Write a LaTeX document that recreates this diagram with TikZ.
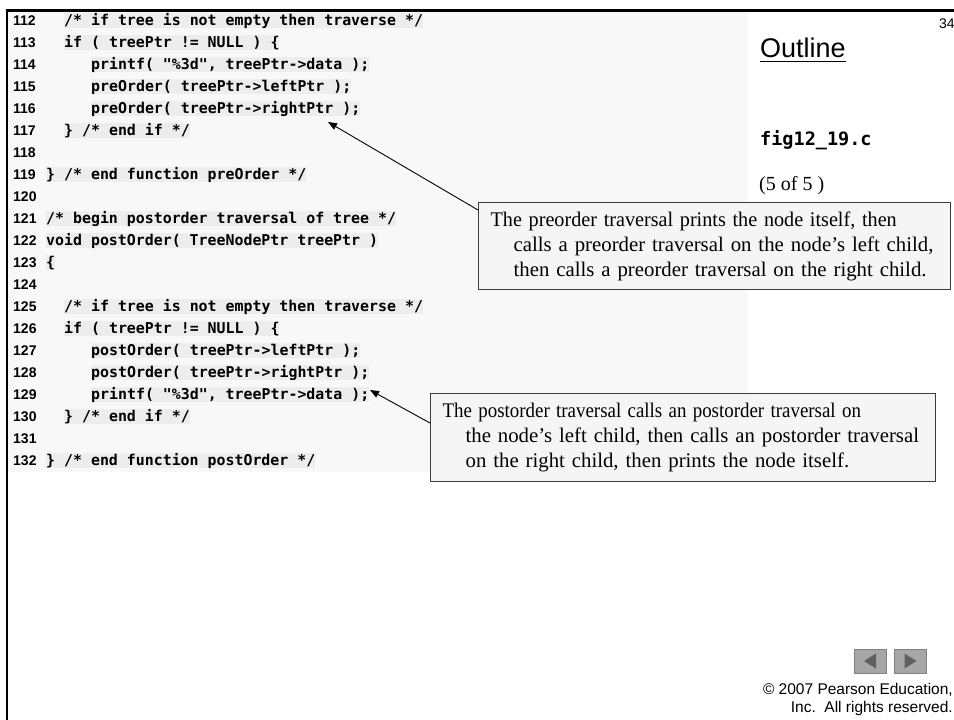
\documentclass[tikz,border=0pt]{standalone}
\usepackage{graphicx}
\usepackage{fontspec}
\setmainfont{Liberation Serif}
\setsansfont{Liberation Sans}
\setmonofont{DejaVu Sans Mono}
\usetikzlibrary{arrows.meta,calc}
\definecolor{codebg}{RGB}{248,248,248}
\definecolor{band}{RGB}{237,237,237}
\definecolor{boxfill}{RGB}{245,245,245}
\definecolor{boxline}{RGB}{60,60,60}
\definecolor{btnfill}{RGB}{166,166,166}
\definecolor{btnedge}{RGB}{130,130,130}
\definecolor{btndark}{RGB}{96,96,96}
\begin{document}
\begin{tikzpicture}[x=1pt,y=-1pt,
  codeline/.style={anchor=base west, inner xsep=0pt, inner ysep=1pt, text height=11pt, text depth=2pt, fill=band,
    font=\ttfamily\bfseries\fontsize{14.9}{18}\selectfont},
  lnum/.style={anchor=base west, inner sep=0pt, font=\sffamily\bfseries\fontsize{14}{16}\selectfont},
  callout/.style={draw=boxline, line width=1.2pt, fill=boxfill, anchor=north west, align=left,
    inner xsep=12pt, inner ysep=0pt, font=\fontsize{20.8}{25}\selectfont},
  arr/.style={-{Triangle[length=9pt,width=7pt]}, line width=0.9pt, black},
  btn/.style={draw=btnedge, line width=0.8pt, fill=btnfill, minimum width=32pt, minimum height=24pt, inner sep=0pt},
  frame/.style={line width=2.5pt, black}
]
\useasboundingbox (0,0) rectangle (954,720);
\fill[white] (0,0) rectangle (954,720);
% code background
\fill[codebg] (8,12) rectangle (748,472);
% frame
\draw[frame] (5.8,10.3) -- (954,10.3);
\draw[frame] (7.2,9) -- (7.2,720);

% line numbers
\node[lnum] (n112) at (13,25) {112};
\node[lnum] (n113) at (13,47) {113};
\node[lnum] (n114) at (13,69) {114};
\node[lnum] (n115) at (13,91) {115};
\node[lnum] (n116) at (13,113) {116};
\node[lnum] (n117) at (13,135) {117};
\node[lnum] (n118) at (13,157) {118};
\node[lnum] (n119) at (13,179) {119};
\node[lnum] (n120) at (13,201) {120};
\node[lnum] (n121) at (13,223) {121};
\node[lnum] (n122) at (13,245) {122};
\node[lnum] (n123) at (13,267) {123};
\node[lnum] (n124) at (13,289) {124};
\node[lnum] (n125) at (13,311) {125};
\node[lnum] (n126) at (13,333) {126};
\node[lnum] (n127) at (13,355) {127};
\node[lnum] (n128) at (13,377) {128};
\node[lnum] (n129) at (13,399) {129};
\node[lnum] (n130) at (13,421) {130};
\node[lnum] (n131) at (13,443) {131};
\node[lnum] (n132) at (13,465) {132};

% code lines
\node[codeline] (c112) at (64,25) {/* if tree is not empty then traverse */};
\node[codeline] (c113) at (64,47) {if ( treePtr != NULL ) \{};
\node[codeline] (c114) at (91,69) {printf( "\%3d", treePtr->data );};
\node[codeline] (c115) at (91,91) {preOrder( treePtr->leftPtr );};
\node[codeline] (c116) at (91,113) {preOrder( treePtr->rightPtr );};
\node[codeline] (c117) at (64,135) {\} /* end if */};
\node[codeline] (c119) at (46,179) {\} /* end function preOrder */};
\node[codeline] (c121) at (46,223) {/* begin postorder traversal of tree */};
\node[codeline] (c122) at (46,245) {void postOrder( TreeNodePtr treePtr )};
\node[codeline] (c123) at (46,267) {\{};
\node[codeline] (c125) at (64,311) {/* if tree is not empty then traverse */};
\node[codeline] (c126) at (64,333) {if ( treePtr != NULL ) \{};
\node[codeline] (c127) at (91,355) {postOrder( treePtr->leftPtr );};
\node[codeline] (c128) at (91,377) {postOrder( treePtr->rightPtr );};
\node[codeline] (c129) at (91,399) {printf( "\%3d", treePtr->data );};
\node[codeline] (c130) at (64,421) {\} /* end if */};
\node[codeline] (c132) at (46,465) {\} /* end function postOrder */};

% right column
\node[anchor=base west, inner sep=0pt, font=\sffamily\fontsize{14}{16}\selectfont] (pagenum) at (939,28) {34};
\node[anchor=base west, inner sep=0pt, font=\sffamily\fontsize{27}{30}\selectfont] (outline) at (760,57) {Outline};
\draw[line width=1.6pt] ($(outline.base west)+(0,4.5)$) -- ($(outline.base east)+(0,4.5)$);
\node[anchor=base west, inner sep=0pt, font=\ttfamily\bfseries\fontsize{18.5}{21}\selectfont] (fname) at (760,145) {fig12\_19.c};
\node[anchor=base west, inner sep=0pt, font=\fontsize{20}{24}\selectfont] (part) at (759,190) {(5 of 5 )};

% callouts
\node[callout, minimum width=472pt, minimum height=87pt, text width=448pt] (pre) at (478,202)
  {\scalebox{0.97}[1]{The preorder traversal prints the node itself, then}\\
   \hspace*{23pt}calls a preorder traversal on the node’s left child,\\
   \hspace*{23pt}then calls a preorder traversal on the right child.};
\node[callout, minimum width=505pt, minimum height=88pt, text width=481pt] (post) at (430,393)
  {\scalebox{0.91}[1]{The postorder traversal calls an postorder traversal on}\\
   \hspace*{23pt}the node’s left child, then calls an postorder traversal\\
   \hspace*{23pt}on the right child, then prints the node itself.};

% arrows
\coordinate (t1) at (328,122);
\coordinate (t2) at (370,390);
\draw[arr] ($(pre.north west)+(0,8)$) -- (t1);
\draw[arr] ($(post.north west)+(0,30)$) -- (t2);

% navigation buttons
\node[btn] (prev) at (870,661) {};
\node[btn] (next) at (910.5,661) {};
\fill[btndark] ($(prev.center)+(-6,0)$) -- ++(12,-7.5) -- ++(0,15) -- cycle;
\fill[btndark] ($(next.center)+(6,0)$) -- ++(-12,-7.5) -- ++(0,15) -- cycle;

% copyright
\node[anchor=base east, inner sep=0pt, font=\sffamily\fontsize{15.5}{18}\selectfont] (copy1) at (953,694) {© 2007 Pearson Education,};
\node[anchor=base east, inner sep=0pt, font=\sffamily\fontsize{15.5}{18}\selectfont] (copy2) at (953,712) {Inc.\ \ All rights reserved.};
\end{tikzpicture}
\end{document}
